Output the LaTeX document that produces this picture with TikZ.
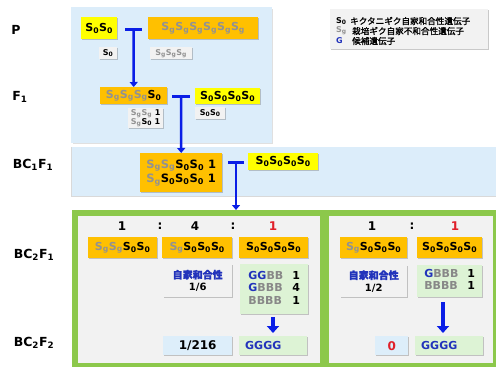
\documentclass[tikz,border=0pt]{standalone}
\usepackage{fontspec}
\setmainfont{DejaVu Sans}
\newfontfamily\jp{Noto Sans CJK JP}[FakeBold=1.6]
\usetikzlibrary{shadows,arrows.meta}
\definecolor{bgblue}{HTML}{DCEDFA}
\definecolor{yel}{HTML}{FFFF00}
\definecolor{ora}{HTML}{FFC000}
\definecolor{sgrey}{HTML}{929292}
\definecolor{lgbox}{HTML}{F2F2F2}
\definecolor{ggreen}{HTML}{8CC84B}
\definecolor{pgrey}{HTML}{F2F2F2}
\definecolor{lgreen}{HTML}{DDF3D5}
\definecolor{lblue}{HTML}{DDEEFA}
\definecolor{tblue}{HTML}{2233BB}
\definecolor{bgrey}{HTML}{888888}
\definecolor{tred}{HTML}{E0202A}
\definecolor{ablue}{HTML}{0A1EE6}
\newcommand{\Sz}{S\textsubscript{0}}
\newcommand{\Sg}{\textcolor{sgrey}{S\textsubscript{g}}}
\newcommand{\fs}[1]{\fontsize{#1}{#1}\selectfont}
\tikzset{
  shd/.style={drop shadow={shadow xshift=1.2pt,shadow yshift=-1.2pt,opacity=0.35,fill=black!60}},
  bx/.style={inner sep=0pt,anchor=north west,font=\bfseries\fs{11},shd},
  ybox/.style={bx,fill=yel},
  obox/.style={bx,fill=ora},
  gbox/.style={bx,fill=lgbox,font=\bfseries\fs{8}},
  grbox/.style={bx,fill=lgreen,font=\bfseries\fontsize{11}{12.5}\selectfont},
  lbbox/.style={bx,fill=lblue,font=\bfseries\fs{12}},
  lbl/.style={font=\bfseries\fs{12.5},inner sep=0pt},
  rat/.style={font=\bfseries\fs{12},inner sep=0pt},
  crossbar/.style={line width=3pt,draw=ablue},
  crossarr/.style={line width=2.5pt,draw=ablue,-{Triangle[length=5pt,width=8pt]}},
  fatarr/.style={line width=4.5pt,draw=ablue,-{Triangle[length=7pt,width=12pt]}}
}
\begin{document}
\begin{tikzpicture}[x=1pt,y=-1pt]
\useasboundingbox (0,0) rectangle (496,367);
\fill[white] (0,0) rectangle (496,367);
% panels
\fill[black!12] (72.5,8.5) rectangle (273,144);
\fill[bgblue] (71,7) rectangle (272,143);
\fill[black!15] (70.5,147) rectangle (496,197);
\fill[bgblue] (71.5,147) rectangle (496,196);
\fill[ggreen] (72,210) rectangle (496,367);
\fill[pgrey] (78,216) rectangle (320,363);
\fill[pgrey] (329,216) rectangle (493,363);
\coordinate (gtop) at (236,210);
% labels
\node[lbl] (lP) at (16,30) {P};
\node[lbl] (lF) at (20,97) {F\textsubscript{1}};
\node[lbl] (lBC1) at (33,165) {BC\textsubscript{1}F\textsubscript{1}};
\node[lbl] (lBC2) at (34,255) {BC\textsubscript{2}F\textsubscript{1}};
\node[lbl] (lBC3) at (34,343) {BC\textsubscript{2}F\textsubscript{2}};
% legend
\node[bx,fill=black!5,minimum width=158,minimum height=40] (leg) at (330,9) {};
\node[font=\bfseries\fs{8},inner sep=0pt,anchor=west] (lg1) at (336,21) {\Sz};
\node[font=\bfseries\fs{8},inner sep=0pt,anchor=west] (lg2) at (336,31) {\Sg};
\node[font=\bfseries\fs{8},inner sep=0pt,anchor=west,text=tblue] (lg3) at (336,41) {G};
\node[font=\jp\fs{8.6},inner sep=0pt,anchor=west] (lj1) at (350,21) {キクタニギク自家和合性遺伝子};
\node[font=\jp\fs{8.6},inner sep=0pt,anchor=west] (lj2) at (352,31) {栽培ギク自家不和合性遺伝子};
\node[font=\jp\fs{8.6},inner sep=0pt,anchor=west] (lj3) at (352,41) {候補遺伝子};
% P
\node[ybox,minimum width=36,minimum height=22] (pa) at (81,17) {\Sz\Sz};
\node[gbox,minimum width=18,minimum height=12] (pa2) at (99,47) {\Sz};
\node[obox,minimum width=110,minimum height=22] (pb) at (148,17) {\Sg\Sg\Sg\Sg\Sg\Sg};
\node[gbox,minimum width=42,minimum height=12] (pb2) at (150,47) {\Sg\Sg\Sg};
% F1
\node[obox,minimum width=67,minimum height=17] (f1a) at (100,87) {\Sg\Sg\Sg\Sz};
\node[ybox,minimum width=65,minimum height=16] (f1b) at (195,88) {\Sz\Sz\Sz\Sz};
\node[gbox,minimum width=35,minimum height=20,align=left] (f1c) at (128,108) {\Sg\Sg\ 1\\[-1pt]\Sg\Sz\ 1};
\node[gbox,minimum width=30,minimum height=12] (f1d) at (195,107) {\Sz\Sz};
% BC1F1
\node[obox,minimum width=82,minimum height=39,align=left,font=\bfseries\fs{11.5}] (bc1a) at (140,153) {\Sg\Sg\Sz\Sz\ 1\\[1pt]\Sg\Sz\Sz\Sz\ 1};
\node[ybox,minimum width=70,minimum height=17] (bc1b) at (248,153) {\Sz\Sz\Sz\Sz};
% crosses
\coordinate (c1) at (133.5,29);
\draw[crossbar] (125,29) -- (142,29);
\draw[crossarr] (c1) -- (f1a.north);
\coordinate (c2) at (181,96);
\draw[crossbar] (172,96) -- (190,96);
\draw[crossarr] (c2) -- (bc1a.north);
\coordinate (c3) at (236,162);
\draw[crossbar] (228,162) -- (244,162);
\draw[crossarr] (c3) -- (gtop);
% BC2F1 left
\node[rat] (r1) at (122,226) {1};
\node[rat] (r2) at (160,226) {:};
\node[rat] (r3) at (195,226) {4};
\node[rat] (r4) at (233,226) {:};
\node[rat,text=tred] (r5) at (273,226) {1};
\node[obox,minimum width=69,minimum height=21] (o1) at (88,237) {\Sg\Sg\Sz\Sz};
\node[obox,minimum width=70,minimum height=21] (o2) at (162,237) {\Sg\Sz\Sz\Sz};
\node[obox,minimum width=69,minimum height=21] (o3) at (239,237) {\Sz\Sz\Sz\Sz};
\node[bx,fill=lgbox,minimum width=69,minimum height=33,align=center,font=\bfseries\fs{10}] (g1) at (163,264) {{\jp\textcolor{tblue}{自家和合性}}\\[2pt]1/6};
\node[grbox,minimum width=68,minimum height=50] (gr1) at (240,264) {\begin{tabular}{@{}l@{\hspace{9pt}}r@{}}\textcolor{tblue}{GG}\textcolor{bgrey}{BB}&1\\\textcolor{tblue}{G}\textcolor{bgrey}{BBB}&4\\\textcolor{bgrey}{BBBB}&1\end{tabular}};
\node[lbbox,minimum width=69,minimum height=19] (lb1) at (163,336) {1/216};
\node[grbox,minimum width=68,minimum height=19,text width=56,inner xsep=6pt,text=tblue] (gg1) at (239,336) {GGGG};
\draw[fatarr,shorten <=3pt,shorten >=3pt] (gr1.south -| 273,0) -- (gg1.north -| 273,0);
% BC2F1 right
\node[rat] (r6) at (372,226) {1};
\node[rat] (r7) at (412,226) {:};
\node[rat,text=tred] (r8) at (455,226) {1};
\node[obox,minimum width=67,minimum height=21] (o4) at (340,237) {\Sg\Sz\Sz\Sz};
\node[obox,minimum width=65,minimum height=21] (o5) at (417,237) {\Sz\Sz\Sz\Sz};
\node[bx,fill=lgbox,minimum width=67,minimum height=32,align=center,font=\bfseries\fs{10}] (g2) at (340,265) {{\jp\textcolor{tblue}{自家和合性}}\\[2pt]1/2};
\node[grbox,minimum width=65,minimum height=32] (gr2) at (417,265) {\begin{tabular}{@{}l@{\hspace{9pt}}r@{}}\textcolor{tblue}{G}\textcolor{bgrey}{BBB}&1\\\textcolor{bgrey}{BBBB}&1\end{tabular}};
\node[lbbox,minimum width=33,minimum height=19,text=tred] (lb2) at (375,336) {0};
\node[grbox,minimum width=68,minimum height=19,text width=56,inner xsep=6pt,text=tblue] (gg2) at (415,336) {GGGG};
\draw[fatarr,shorten <=5pt,shorten >=3pt] (gr2.south -| 443,0) -- (gg2.north -| 443,0);
\end{tikzpicture}
\end{document}
